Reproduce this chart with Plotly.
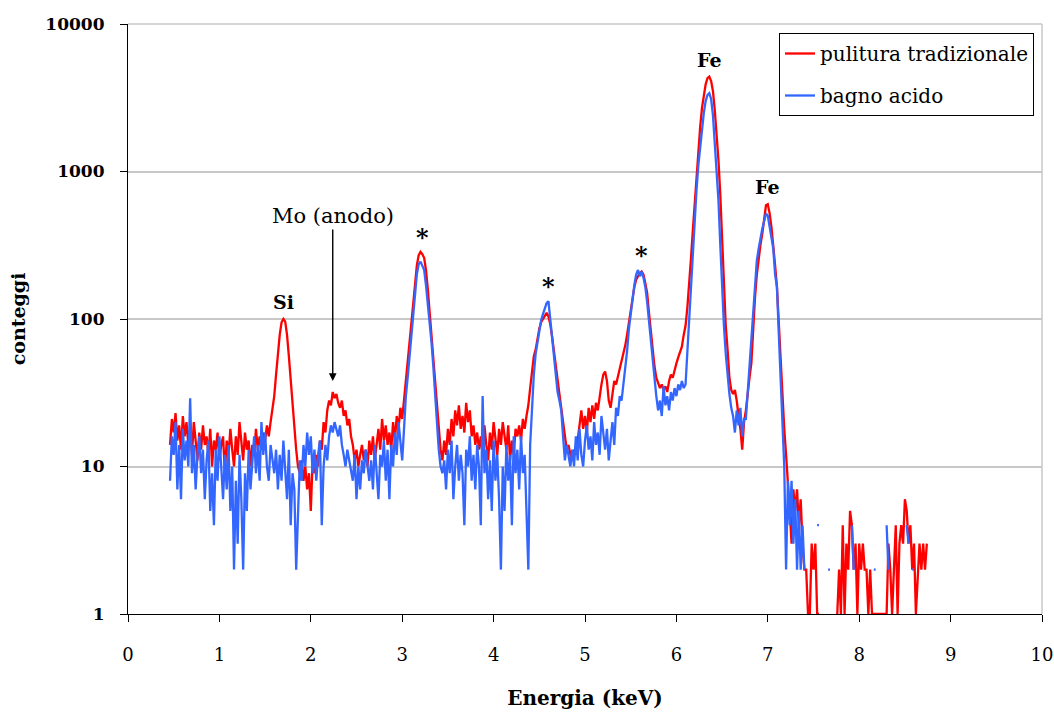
import math
import plotly.graph_objects as go

N = None  # zero counts (not drawable on a log axis)

# channel calibration (keV)
E_START = 0.46
E_STEP = 0.02

# counts, "pulitura tradizionale" (blocks of 10 channels, 0.2 keV each)
red = [
    14, 21, 17, 23, 15, 19, 13, 22, 16, 20,          # 0.46
    14, 18, 12, 20, 15, 11, 17, 13, 19, 14,          # 0.66
    16, 12, 18, 10, 15, 13, 17, 11, 14, 16,          # 0.86
    9, 15, 12, 18, 13, 10, 16, 12, 20, 14,           # 1.06
    11, 17, 13, 15, 10, 14, 12, 18, 13, 16,          # 1.26
    13, 17, 15, 19, 16, 20, 24, 30, 42, 58,          # 1.46
    78, 95, 100, 96, 78, 56, 38, 26, 18, 13,         # 1.66
    10, 9, 11, 8, 10, 7, 9, 5, 11, 9,                # 1.86
    12, 10, 15, 13, 20, 17, 24, 28, 26, 32,          # 2.06
    29, 31, 27, 25, 28, 22, 24, 19, 21, 16,          # 2.26
    14, 11, 13, 10, 12, 14, 11, 13, 10, 15,          # 2.46
    12, 16, 11, 14, 18, 13, 21, 15, 19, 14,          # 2.66
    17, 13, 20, 15, 22, 18, 25, 21, 28, 38,          # 2.86
    48, 66, 90, 120, 170, 230, 270, 285, 275, 260,   # 3.06
    215, 160, 110, 78, 52, 36, 25, 17, 13, 11,       # 3.26
    15, 12, 18, 14, 21, 16, 24, 19, 26, 18,          # 3.46
    22, 17, 27, 20, 24, 16, 19, 14, 17, 13,          # 3.66
    16, 12, 19, 14, 11, 17, 13, 20, 15, 12,          # 3.86
    18, 14, 20, 16, 13, 19, 11, 15, 12, 18,          # 4.06
    16, 19, 15, 21, 18, 22, 26, 34, 44, 56,          # 4.26
    62, 74, 86, 95, 100, 106, 110, 104, 92, 76,      # 4.46
    62, 50, 40, 31, 25, 20, 16, 13, 14, 12,          # 4.66
    11, 13, 12, 15, 19, 24, 18, 22, 17, 25,          # 4.86
    20, 26, 21, 27, 24, 30, 36, 42, 44, 38,          # 5.06
    28, 25, 32, 38, 36, 42, 46, 52, 58, 66,          # 5.26
    78, 95, 115, 140, 165, 185, 195, 205, 210, 200,  # 5.46
    175, 150, 110, 80, 62, 48, 40, 37, 34, 36,       # 5.66
    33, 35, 32, 38, 42, 40, 46, 50, 55, 60,          # 5.86
    65, 78, 90, 120, 170, 260, 400, 620, 950, 1400,  # 6.06
    2000, 2700, 3400, 3900, 4300, 4400, 4100, 3500, 2600, 1800,  # 6.26
    1200, 700, 350, 140, 90, 62, 40, 33, 31, 33,     # 6.46
    28, 22, 18, 13, 20, 24, 33, 40, 50, 88,          # 6.66
    140, 200, 260, 320, 380, 480, 590, 600, 520, 420,  # 6.86
    320, 230, 165, 90, 50, 30, 18, 12, 8, 5,         # 7.06
    3, 7, 5, 7, 4, 6, 3, 2, 2, 1,                    # 7.26
    1, 3, 2, 3, 1, 1, N, N, N, N,                    # 7.46
    N, N, N, N, N, 1, 2, 1, 4, 1,                    # 7.66
    3, 2, 5, 4, 2, 3, 1, 3, 2, 3,                    # 7.86
    2, 2, 1, 2, 1, 1, 1, 1, 1, 1,                    # 8.06
    1, 1, 1, 3, 2, 1, 2, 4, 1, 3,                    # 8.26
    4, 3, 6, 5, 3, 4, 2, 3, 1, 2,                    # 8.46
    3, 2, 3, 2, 3,                                   # 8.66
]

# counts, "bagno acido"
blue = [
    8, 16, 12, 20, 7, 14, 6, 18, 11, 15,             # 0.46
    10, 29, 9, 14, 7, 12, 16, 9, 13, 6,              # 0.66
    11, 15, 5, 9, 4, 13, 8, 16, 10, 6,               # 0.86
    12, 7, 14, 5, 10, 2, 8, 3, 12, 6,                # 1.06
    2, 9, 5, 13, 7, 11, 16, 9, 14, 8,                # 1.26
    20, 12, 17, 10, 8, 14, 11, 9, 13, 7,             # 1.46
    12, 8, 15, 10, 6, 13, 4, 9, 7, 2,                # 1.66
    5, 11, 8, 14, 10, 17, 12, 16, 9, 13,             # 1.86
    8, 12, 15, 4, 10, 14, 11, 16, 19, 17,            # 2.06
    20, 18, 16, 19, 14, 12, 10, 13, 11, 9,           # 2.26
    8, 12, 6, 10, 7, 11, 9, 13, 10, 8,               # 2.46
    11, 7, 14, 9, 6, 12, 10, 15, 8, 13,              # 2.66
    6, 14, 10, 17, 12, 20, 15, 11, 18, 30,           # 2.86
    40, 55, 80, 105, 150, 200, 235, 245, 230, 215,   # 3.06
    170, 130, 95, 70, 48, 30, 20, 13, 10, 9,         # 3.26
    11, 7, 13, 9, 15, 6, 10, 14, 8, 12,              # 3.46
    9, 4, 13, 10, 16, 8, 12, 7, 14, 10,              # 3.66
    4, 30, 9, 13, 6, 11, 5, 15, 8, 12,               # 3.86
    6, 2, 10, 5, 14, 8, 12, 4, 16, 9,                # 4.06
    13, 7, 16, 9, 12, 5, 2, 14, 26, 42,              # 4.26
    58, 70, 85, 98, 108, 118, 128, 132, 100, 78,     # 4.46
    60, 42, 32, 28, 24, 16, 11, 14, 12, 10,          # 4.66
    13, 10, 16, 11, 18, 12, 10, 15, 19, 13,          # 4.86
    16, 11, 20, 14, 17, 12, 22, 16, 13, 18,          # 5.06
    11, 15, 20, 14, 25, 22, 30, 28, 36, 45,          # 5.26
    60, 85, 110, 140, 170, 200, 215, 195, 210, 190,  # 5.46
    165, 130, 95, 70, 52, 40, 30, 24, 28, 22,        # 5.66
    35, 26, 30, 24, 32, 28, 34, 30, 36, 33,          # 5.86
    38, 34, 36, 60, 100, 170, 300, 480, 750, 1100,   # 6.06
    1500, 2000, 2500, 3000, 3300, 3400, 3100, 2400, 1600, 1000,  # 6.26
    640, 320, 150, 90, 58, 40, 31, 25, 22, 17,       # 6.46
    24, 19, 25, 16, 21, 21, 32, 45, 75, 110,         # 6.66
    160, 250, 300, 360, 410, 460, 520, 500, 430, 370,  # 6.86
    300, 200, 165, 80, 40, 18, 10, 2, 8, 4,          # 7.06
    8, 3, 6, 2, 5, 2, 4, 2, N, N,                    # 7.26
    N, N, N, N, 4, 4, N, N, N, N,                    # 7.46
    2, 2, N, N, N, N, N, N, N, N,                    # 7.66
    N, N, N, 4, 2, N, N, N, N, N,                    # 7.86
    N, N, N, N, N, 2, 2, N, N, N,                    # 8.06
    N, N, 4, 2, N, N, N, N, N, N,                    # 8.26
    N, N, N, 4, 3, N, 2, 2, N, N,                    # 8.46
    N, N, N, N, N,                                   # 8.66
]

series_names = ["pulitura tradizionale", "bagno acido"]
series_colors = ["#ff0000", "#3366ff"]

# peak labels
peak_labels = ["Si", "*", "*", "*", "Fe", "Fe"]
peak_energies = [1.70, 3.22, 4.60, 5.62, 6.36, 7.00]
mo_label = "Mo (anodo)"
mo_energy = 2.24

x_ticks = list(range(0, 11))
y_ticks = [1, 10, 100, 1000, 10000]
y_ticktext = ["1", "10", "100", "1000", "10000"]

energy = [round(E_START + i * E_STEP, 2) for i in range(len(red))]

FONT = "DejaVu Serif"

fig = go.Figure()
for name, color, vals in zip(series_names, series_colors, [red, blue]):
    fig.add_trace(go.Scatter(
        x=energy, y=vals, mode="lines", name=name,
        line=dict(color=color, width=2.3), connectgaps=False,
        legendgroup=name,
    ))


def local_max(e0, half=0.06):
    vals = [v for e, r, b in zip(energy, red, blue) if abs(e - e0) <= half
            for v in (r, b) if v is not None]
    return max(vals)


annotations = []
for lab, e0 in zip(peak_labels, peak_energies):
    big = lab == "*"
    annotations.append(dict(
        x=e0, y=math.log10(local_max(e0)), xref="x", yref="y",
        text=lab, showarrow=False, yanchor="bottom",
        yshift=-2 if big else 4,
        font=dict(family=FONT, size=24 if big else 19, color="black", weight="bold"),
    ))

mo_peak = max(v for e, v in zip(energy, red) if abs(e - mo_energy) <= 0.04)
annotations.append(dict(
    x=mo_energy, y=math.log10(mo_peak), xref="x", yref="y",
    text=mo_label, showarrow=True, arrowhead=2, arrowsize=1.1, arrowwidth=1.4,
    arrowcolor="black", ax=0, ay=-176, standoff=11,
    font=dict(family=FONT, size=21, color="black"),
))

fig.update_layout(
    width=1054, height=713, autosize=False,
    margin=dict(l=128, r=12, t=24, b=99, autoexpand=False),
    paper_bgcolor="white", plot_bgcolor="white",
    font=dict(family=FONT, color="black"),
    showlegend=True,
    legend=dict(
        x=(1034 - 128) / 914, y=(614 - 33) / 590, xanchor="right", yanchor="top",
        bgcolor="white", bordercolor="black", borderwidth=1,
        font=dict(family=FONT, size=20, color="black"),
        itemwidth=30, tracegroupgap=13,
    ),
    annotations=annotations,
    shapes=[
        dict(type="line", xref="paper", yref="paper", x0=1, x1=1, y0=0, y1=1,
             line=dict(color="#c8c8c8", width=1.5)),
        dict(type="line", xref="paper", yref="paper", x0=0, x1=1, y0=1, y1=1,
             line=dict(color="#c8c8c8", width=1.5)),
    ],
)

fig.update_xaxes(
    automargin=False,
    range=[0, 10], tickvals=x_ticks, ticks="outside", ticklen=7, tickcolor="black",
    showline=True, linecolor="black", linewidth=1.2, showgrid=False, zeroline=False,
    tickfont=dict(family=FONT, size=18, color="black"), ticklabelstandoff=17,
    title=dict(text="Energia (keV)", standoff=27,
               font=dict(family=FONT, size=20, color="black", weight="bold")),
)
fig.update_yaxes(
    automargin=False,
    type="log", range=[0, 4], tickvals=y_ticks, ticktext=y_ticktext,
    ticks="outside", ticklen=7, tickcolor="black",
    showline=True, linecolor="black", linewidth=1.2,
    showgrid=True, gridcolor="#c8c8c8", gridwidth=1.5, zeroline=False,
    tickfont=dict(family=FONT, size=17, color="black", weight="bold"), ticklabelstandoff=12,
    title=dict(text="conteggi", standoff=14,
               font=dict(family=FONT, size=19, color="black", weight="bold")),
)

fig.write_html("out.html")
